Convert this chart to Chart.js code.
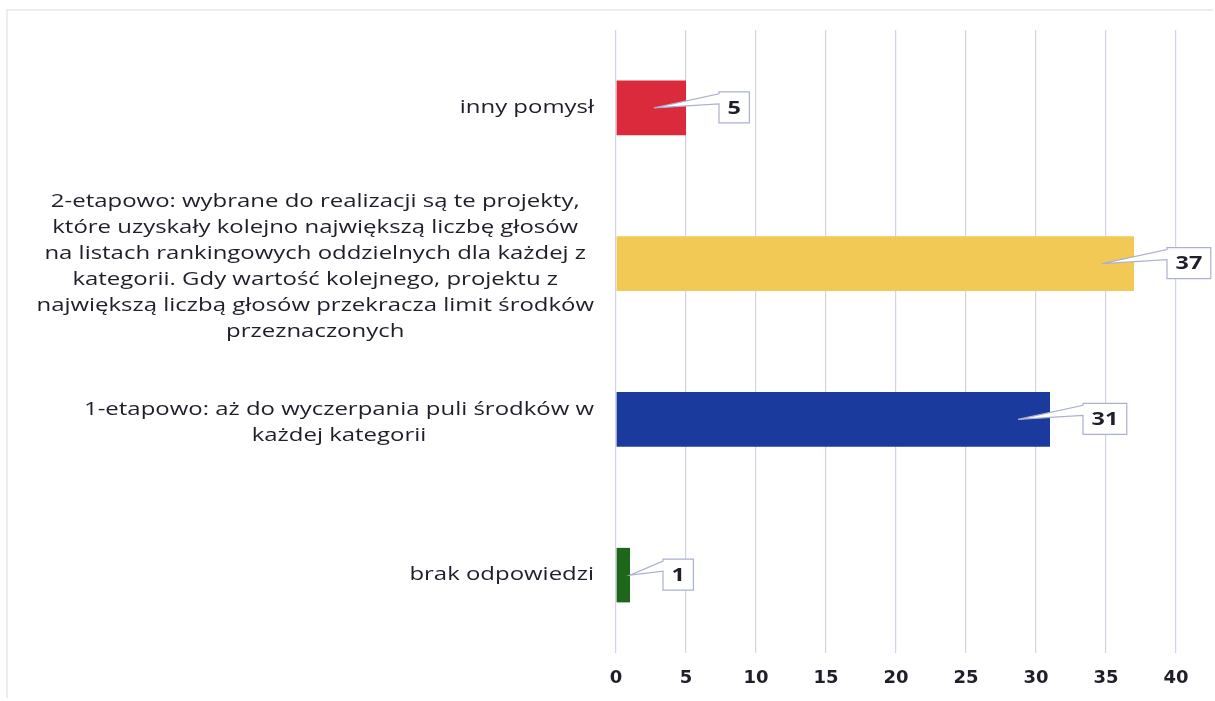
<!DOCTYPE html>
<html>
<head>
<meta charset="utf-8">
<script src="https://cdn.jsdelivr.net/npm/chart.js@4.4.1/dist/chart.umd.min.js"></script>
<style>
  html, body { margin: 0; padding: 0; background: #ffffff; }
  #wrap { position: relative; width: 1215px; height: 701px; }
  canvas { display: block; }
</style>
</head>
<body>
<div id="wrap"><canvas id="c" width="1215" height="701"></canvas></div>
<script>
// ---- Data ----
const categoryLabels = [
  ["inny pomysł"],
  ["2-etapowo: wybrane do realizacji są te projekty,",
   "które uzyskały kolejno największą liczbę głosów",
   "na listach rankingowych oddzielnych dla każdej z",
   "kategorii. Gdy wartość kolejnego, projektu z",
   "największą liczbą głosów przekracza limit środków",
   "przeznaczonych"],
  ["1-etapowo: aż do wyczerpania puli środków w",
   "każdej kategorii"],
  ["brak odpowiedzi"]
];
const responseCounts = [5, 37, 31, 1];
const barColors = ["#DA2A3C", "#F1C954", "#1B3A9E", "#1D661A"];
const xTickValues = [0, 5, 10, 15, 20, 25, 30, 35, 40];

const FONT = "'Open Sans', 'DejaVu Sans', sans-serif";
const TEXT_COLOR = "#1f1f2a";
const TEXT_STRETCH = 1.33;   // reference text is horizontally wide

// Draw category labels: block right-aligned to the axis, lines centred within block
const categoryLabelPlugin = {
  id: 'categoryLabels',
  afterDraw(chart) {
    const ctx = chart.ctx;
    const yScale = chart.scales.y;
    const right = chart.chartArea.left - 22;
    const lineH = 26;
    ctx.save();
    ctx.font = "400 18px " + FONT;
    ctx.fillStyle = TEXT_COLOR;
    ctx.textBaseline = 'middle';
    ctx.textAlign = 'center';
    categoryLabels.forEach((lines, i) => {
      const cy = yScale.getPixelForTick(i) + (lines.length > 1 ? 3 : 0);
      let w = 0;
      lines.forEach(l => { w = Math.max(w, ctx.measureText(l).width * TEXT_STRETCH); });
      const cx = right - w / 2;
      const top = cy - (lines.length - 1) * lineH / 2;
      lines.forEach((l, k) => {
        ctx.save();
        ctx.translate(cx, top + k * lineH);
        ctx.scale(TEXT_STRETCH, 1);
        ctx.fillText(l, 0, 0);
        ctx.restore();
      });
    });
    ctx.restore();
  }
};

// Callout value labels
const calloutPlugin = {
  id: 'callouts',
  afterDatasetsDraw(chart) {
    const ctx = chart.ctx;
    const meta = chart.getDatasetMeta(0);
    ctx.save();
    ctx.font = "700 18px " + FONT;
    meta.data.forEach((bar, i) => {
      const txt = String(chart.data.datasets[0].data[i]);
      const tw = ctx.measureText(txt).width * 1.3;
      const bw = tw + 17, bh = 31;
      const bx = bar.x + 33;
      const by = bar.y - 16;
      const tipX = (bar.x - bar.base > 45) ? bar.x - 32 : bar.x;
      const tipY = bar.y;
      ctx.beginPath();
      ctx.moveTo(bx, by);
      ctx.lineTo(bx + bw, by);
      ctx.lineTo(bx + bw, by + bh);
      ctx.lineTo(bx, by + bh);
      ctx.lineTo(bx, by + 12);
      ctx.lineTo(tipX, tipY);
      ctx.lineTo(bx, by + 2);
      ctx.closePath();
      ctx.fillStyle = '#ffffff';
      ctx.fill();
      ctx.lineWidth = 1.2;
      ctx.strokeStyle = '#AAB1D0';
      ctx.stroke();
      ctx.fillStyle = TEXT_COLOR;
      ctx.textAlign = 'center';
      ctx.textBaseline = 'middle';
      ctx.save();
      ctx.translate(bx + bw / 2, by + bh / 2 + 1);
      ctx.scale(1.3, 1);
      ctx.fillText(txt, 0, 0);
      ctx.restore();
    });
    ctx.restore();
  }
};

// Faint outer frame
const framePlugin = {
  id: 'frame',
  beforeDraw(chart) {
    const ctx = chart.ctx;
    ctx.save();
    ctx.strokeStyle = '#E6E6EE';
    ctx.lineWidth = 1.5;
    ctx.beginPath();
    ctx.moveTo(7, 698);
    ctx.lineTo(7, 10);
    ctx.lineTo(1213, 10);
    ctx.stroke();
    ctx.restore();
  }
};

new Chart(document.getElementById('c'), {
  type: 'bar',
  data: {
    labels: categoryLabels,
    datasets: [{
      data: responseCounts,
      backgroundColor: barColors,
      borderWidth: 0,
      barPercentage: 0.35,
      categoryPercentage: 1.0
    }]
  },
  options: {
    indexAxis: 'y',
    responsive: false,
    animation: false,
    devicePixelRatio: 1,
    layout: { padding: { top: 30, right: 39, bottom: 8, left: 0 } },
    plugins: { legend: { display: false }, tooltip: { enabled: false } },
    scales: {
      x: {
        min: 0, max: 40,
        afterBuildTicks(scale) { scale.ticks = xTickValues.map(v => ({ value: v })); },
        afterFit(scale) { scale.height = 40; },
        grid: { color: '#D3D3E6', lineWidth: 1.2, drawTicks: false },
        border: { display: false },
        ticks: {
          padding: 15,
          color: TEXT_COLOR,
          font: { family: "'DejaVu Sans', sans-serif", size: 18, weight: 'bold' }
        }
      },
      y: {
        grid: { display: false },
        border: { display: false },
        ticks: { display: false },
        afterFit(scale) { scale.width = 616; }
      }
    }
  },
  plugins: [framePlugin, categoryLabelPlugin, calloutPlugin]
});
</script>
</body>
</html>
